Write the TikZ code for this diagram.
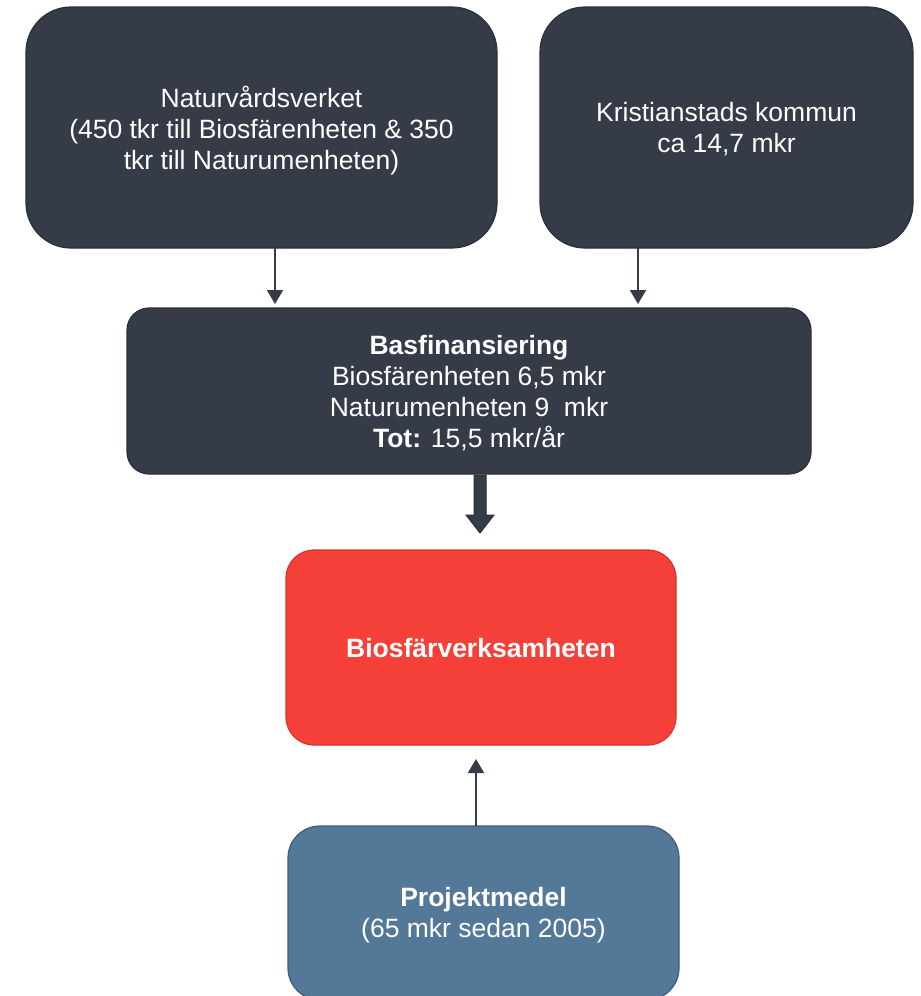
\documentclass[tikz,border=0pt]{standalone}
\usepackage{fontspec}
\setmainfont{Liberation Sans}
\usetikzlibrary{arrows.meta}
\definecolor{darkbox}{HTML}{353B47}
\definecolor{darkedge}{HTML}{2A2F38}
\definecolor{redbox}{HTML}{F5403A}
\definecolor{rededge}{HTML}{D7322C}
\definecolor{bluebox}{HTML}{547898}
\definecolor{blueedge}{HTML}{3F5C78}
\tikzset{
  box/.style={draw=darkedge, fill=darkbox, line width=1.2pt, text=white, align=center,
    font=\fontsize{26.5}{31}\selectfont, inner sep=0pt},
  thinarrow/.style={draw=darkbox, line width=2pt, -{Triangle[length=14pt,width=16pt]}},
}
\begin{document}
\begin{tikzpicture}[x=1pt,y=-1pt]
\useasboundingbox (0,0) rectangle (921,996);
% boxes
\draw[box, rounded corners=45pt] (26,7) rectangle (497,248);
\node[box, draw=none, fill=none] (nv) at (261.5,131) {Naturvårdsverket\\(450 tkr till Biosfärenheten \& 350\\tkr till Naturumenheten)};
\draw[box, rounded corners=45pt] (540,7) rectangle (913,248);
\node[box, draw=none, fill=none] (kk) at (726.5,129) {Kristianstads kommun\\ca 14,7 mkr};
\draw[box, rounded corners=22pt] (127,308) rectangle (811,474);
\node[box, draw=none, fill=none] (bf) at (469,393) {\textbf{Basfinansiering}\\Biosfärenheten 6,5 mkr\\Naturumenheten 9~~mkr\\\textbf{Tot:} 15,5 mkr/år};
\draw[box, draw=rededge, fill=redbox, rounded corners=28pt] (286,550) rectangle (676,745);
\node[box, draw=none, fill=none] (bv) at (481,648) {\textbf{Biosfärverksamheten}};
\draw[box, draw=blueedge, fill=bluebox, rounded corners=32pt] (288,826) rectangle (679,1000);
\node[box, draw=none, fill=none] (pm) at (483.5,915) {\textbf{Projektmedel}\\(65 mkr sedan 2005)};
% named anchor coordinates
\coordinate (a1s) at (275,248); \coordinate (a1e) at (275,304);
\coordinate (a2s) at (638,248); \coordinate (a2e) at (638,304);
\coordinate (a3s) at (480,474); \coordinate (a3e) at (480,534);
\coordinate (a4s) at (476,826); \coordinate (a4e) at (476,759);
\draw[thinarrow] (a1s) -- (a1e);
\draw[thinarrow] (a2s) -- (a2e);
\draw[thinarrow] (a4s) -- (a4e);
% thick arrow
\draw[draw=darkedge, fill=darkbox, line width=1pt]
  (474,475) -- (486,475) -- (486,515) -- (494,515) -- (480,533) -- (466,515) -- (474,515) -- cycle;
\end{tikzpicture}
\end{document}
